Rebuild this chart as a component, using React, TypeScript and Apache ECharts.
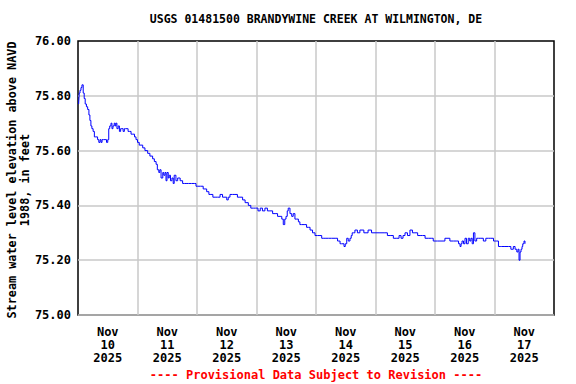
import React, { useEffect, useRef } from "react";
import * as echarts from "echarts";

const chartTitle = "USGS 01481500 BRANDYWINE CREEK AT WILMINGTON, DE";
const yAxisTitle = "Stream water level elevation above NAVD\n1988, in feet";
const footerText = "---- Provisional Data Subject to Revision ----";
const dayLabels = ["Nov\n10\n2025", "Nov\n11\n2025", "Nov\n12\n2025", "Nov\n13\n2025", "Nov\n14\n2025", "Nov\n15\n2025", "Nov\n16\n2025", "Nov\n17\n2025"];

// hours since Nov 10 2025 00:00
const hours = [
  0.25, 0.5, 0.8, 1.2, 1.6, 2.1, 2.5, 2.9, 3.4, 3.9, 4.4, 4.8, 5.2, 5.6, 6.1, 6.6, 7.2, 7.9, 8.4, 8.9, 9.3, 9.7, 10.3, 10.9, 11.5, 12.0,
  12.4, 12.8, 13.3, 13.7, 14.1, 14.6, 15.0, 15.3, 15.7, 16.2, 16.7, 17.2, 17.7, 18.2, 18.7, 19.2, 19.8, 20.2, 20.7, 21.4, 22.1, 22.8, 23.4,
  24.0, 24.7, 25.4, 26.1, 27.0, 28.1, 29.0, 30.1, 30.8, 31.5, 32.0, 32.6, 33.0, 33.5, 34.2, 34.6, 35.1, 35.5, 35.9, 36.4, 36.8, 37.3, 37.9,
  38.4, 38.8, 39.5, 40.2, 41.2, 42.2, 43.0, 43.6, 44.6, 45.8, 46.9, 47.6, 48.3, 49.4, 50.5, 51.2, 51.9, 52.8, 53.6, 54.4, 55.3, 56.3, 57.3,
  58.3, 59.3, 60.0, 60.6, 61.3, 62.3, 63.3, 64.3, 65.3, 66.4, 67.4, 68.7, 69.7, 70.7, 71.6, 72.6, 73.5, 74.4, 75.4, 76.4, 77.4, 78.5, 79.5,
  80.5, 81.5, 82.2, 82.8, 83.4, 83.9, 84.4, 84.8, 85.5, 86.2, 86.8, 87.5, 88.2, 88.9, 89.5, 90.2, 91.2, 92.2, 92.9, 93.6, 94.6, 95.6, 96.6,
  97.6, 98.3, 98.9, 100.0, 101.0, 102.3, 103.7, 104.7, 105.2, 105.7, 106.3, 106.9, 107.3, 107.8, 108.4, 109.0, 109.7, 110.2, 110.6, 111.2,
  111.7, 112.7, 113.7, 115.3, 117.0, 118.4, 119.8, 121.8, 123.8, 124.8, 125.9, 127.2, 128.6, 129.5, 130.3, 131.1, 131.9, 132.9, 133.9, 134.9,
  135.9, 137.0, 138.0, 139.0, 140.0, 141.3, 142.7, 143.3, 144.0, 145.0, 146.0, 148.0, 150.0, 151.4, 152.8, 153.5, 154.1, 154.5, 154.9, 155.5,
  156.1, 156.7, 157.4, 158.0, 158.5, 159.0, 159.5, 160.1, 160.8, 161.5, 162.5, 163.5, 164.5, 165.5, 166.5, 167.6, 168.3, 168.9, 169.6, 170.3,
  170.9, 172.2, 173.6, 174.6, 175.6, 176.3, 177.0, 177.5, 177.9, 178.3, 178.7, 179.1, 179.4, 179.9, 180.3,
];

const levels = [
  75.77, 75.81, 75.82, 75.83, 75.84, 75.81, 75.79, 75.77, 75.76, 75.75, 75.73, 75.71, 75.69, 75.68, 75.67, 75.65, 75.65, 75.64, 75.63, 75.64, 75.63, 75.64, 75.64, 75.64, 75.63, 75.64,
  75.68, 75.69, 75.70, 75.68, 75.69, 75.70, 75.69, 75.70, 75.68, 75.69, 75.67, 75.68, 75.68, 75.67, 75.68, 75.68, 75.68, 75.67, 75.67, 75.66, 75.66, 75.65, 75.64,
  75.63, 75.62, 75.62, 75.61, 75.60, 75.59, 75.58, 75.57, 75.56, 75.55, 75.53, 75.52, 75.53, 75.50, 75.52, 75.51, 75.52, 75.49, 75.52, 75.50, 75.51, 75.49, 75.50,
  75.48, 75.51, 75.49, 75.50, 75.49, 75.48, 75.48, 75.48, 75.48, 75.48, 75.48, 75.47, 75.47, 75.47, 75.46, 75.46, 75.45, 75.44, 75.44, 75.43, 75.43, 75.43, 75.44,
  75.43, 75.43, 75.42, 75.43, 75.44, 75.44, 75.44, 75.43, 75.43, 75.42, 75.41, 75.40, 75.39, 75.39, 75.39, 75.38, 75.39, 75.38, 75.39, 75.38, 75.38, 75.37, 75.37,
  75.36, 75.36, 75.35, 75.33, 75.35, 75.36, 75.38, 75.39, 75.37, 75.36, 75.37, 75.35, 75.35, 75.34, 75.33, 75.33, 75.33, 75.32, 75.32, 75.31, 75.30, 75.29, 75.29,
  75.29, 75.28, 75.28, 75.28, 75.28, 75.28, 75.28, 75.27, 75.27, 75.26, 75.26, 75.26, 75.25, 75.26, 75.28, 75.27, 75.28, 75.29, 75.30, 75.30,
  75.31, 75.30, 75.31, 75.30, 75.31, 75.30, 75.30, 75.30, 75.30, 75.29, 75.29, 75.28, 75.28, 75.29, 75.28, 75.29, 75.30, 75.29, 75.31, 75.30,
  75.30, 75.29, 75.29, 75.29, 75.28, 75.28, 75.28, 75.27, 75.27, 75.27, 75.27, 75.28, 75.27, 75.27, 75.27, 75.26, 75.25, 75.26, 75.27, 75.26,
  75.28, 75.26, 75.28, 75.27, 75.28, 75.26, 75.30, 75.27, 75.28, 75.28, 75.28, 75.27, 75.28, 75.28, 75.28, 75.27, 75.27, 75.27, 75.25, 75.25,
  75.25, 75.25, 75.25, 75.24, 75.25, 75.24, 75.23, 75.24, 75.20, 75.23, 75.24, 75.25, 75.26, 75.27, 75.26,
];

const FONT = "'DejaVu Sans Mono', monospace";

export default function App() {
  const ref = useRef<HTMLDivElement>(null);
  useEffect(() => {
    if (!ref.current) return;
    const chart = echarts.init(ref.current, null, { renderer: "svg" });
    const data = hours.map((h, i) => [h, levels[i]]);
    chart.setOption({
      animation: false,
      backgroundColor: "#ffffff",
      textStyle: { fontFamily: FONT },
      grid: {
        left: 78, right: 22, top: 41, bottom: 69,
        containLabel: false, outerBoundsMode: "none",
        show: true, borderColor: "#000", borderWidth: 1.5, backgroundColor: "transparent",
      },
      graphic: [
        { type: "text", x: 316, y: 13, style: { text: chartTitle, font: `bold 11.5px ${FONT}`, fill: "#000", textAlign: "center" } },
        { type: "text", x: 316, y: 369, style: { text: footerText, font: `bold 12px ${FONT}`, fill: "#ff0000", textAlign: "center" } },
        {
          type: "text", x: 18, y: 180, rotation: Math.PI / 2,
          style: { text: yAxisTitle, font: `bold 11.8px ${FONT}`, lineHeight: 13, fill: "#000", textAlign: "center", textVerticalAlign: "middle", align: "center", verticalAlign: "middle" },
        },
      ],
      xAxis: [
        {
          type: "value",
          min: 0,
          max: 192,
          interval: 24,
          axisLine: { show: false },
          axisTick: { show: false },
          axisLabel: { show: false },
          splitLine: { show: true, showMinLine: false, showMaxLine: false, lineStyle: { color: "#c8c8c8", width: 1.5 } },
        },
        {
          type: "category",
          data: dayLabels,
          position: "bottom",
          boundaryGap: true,
          axisLine: { show: false },
          axisTick: { show: false },
          splitLine: { show: false },
          axisLabel: { margin: 10, lineHeight: 13, color: "#000", fontFamily: FONT, fontWeight: "bold", fontSize: 12 },
        },
      ],
      yAxis: {
        type: "value",
        min: 75,
        max: 76,
        interval: 0.2,
        axisLine: { show: false },
        axisTick: { show: false },
        axisLabel: { margin: 7, color: "#000", fontFamily: FONT, fontWeight: "bold", fontSize: 12, formatter: (v: number) => v.toFixed(2) },
        splitLine: { show: true, showMaxLine: false, lineStyle: { color: "#c8c8c8", width: 1.5 } },
      },
      series: [
        {
          type: "line",
          xAxisIndex: 0,
          data,
          step: "end",
          showSymbol: false,
          symbol: "none",
          z: 3,
          lineStyle: { color: "#0000ff", width: 1 },
        },
      ],
    });
    return () => chart.dispose();
  }, []);
  return <div ref={ref} style={{ position: "fixed", left: 0, top: 0, width: 576, height: 384 }} />;
}
